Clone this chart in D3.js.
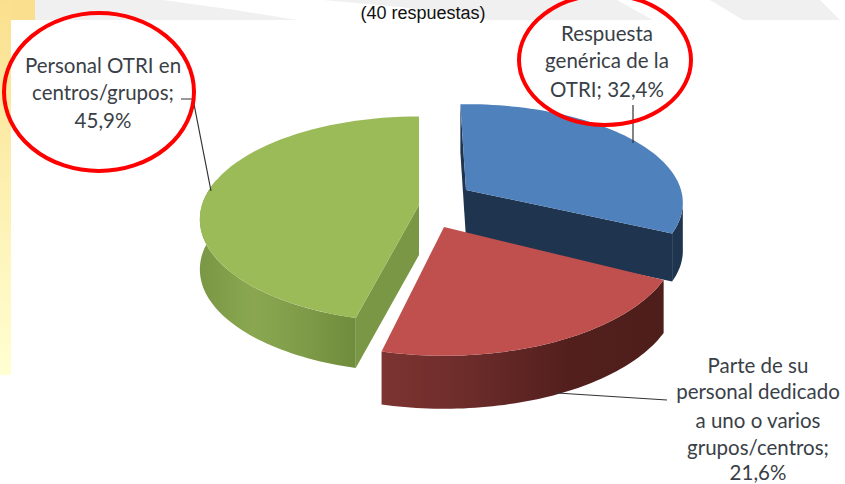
<!DOCTYPE html>
<html>
<head>
<meta charset="utf-8">
<script src="https://cdn.jsdelivr.net/npm/d3@7"></script>
<style>
    html, body { margin: 0; padding: 0; background: #fff; overflow: hidden; }
    svg { display: block; }
    .lbl { font-family: Lato, "Open Sans", sans-serif; font-size: 20.5px; fill: #3a3f47; text-anchor: middle; }
    .sub { font-family: "Liberation Sans", Arial, sans-serif; font-size: 18px; fill: #111; text-anchor: middle; }
    .leader { fill: none; stroke: #333; stroke-width: 1.2px; }
    .ring { fill: none; stroke: #f00; stroke-width: 4px; }
</style>
</head>
<body>
<div id="chart"></div>
<script>
// values
var categories = ["Respuesta genérica de la OTRI", "Parte de su personal dedicado", "Personal OTRI en centros/grupos"];
var values = [32.4, 21.6, 45.9];
var subtitle = "(40 respuestas)";

var labelLines = [
    ["Respuesta", "genérica de la", "OTRI; 32,4%"],
    ["Parte de su", "personal dedicado", "a uno o varios", "grupos/centros;", "21,6%"],
    ["Personal OTRI en", "centros/grupos;", "45,9%"]
];

// exploded slices: apex position and the size of each one in the picture
var sliceLayout = [
    {cx: 466, cy: 190, rx: 215, ry: 97, p: 0.13, depth: 48, tilt: -1.7},
    {cx: 444, cy: 227, rx: 233, ry: 115, p: 0.107, depth: 53, tilt: -0.7},
    {cx: 419, cy: 205, rx: 217, ry: 101, p: 0.14, depth: 50, tilt: 0}
];
var topColors = ["#4f81bd", "#c0504d", "#9bbb59"];
var cutColors = ["#1f344f", "#5a2220", "#7a9746"];
var wallStops = [
    ["#1f344f", "#1f344f"],
    ["#4e1e1b", "#521f1d", "#6a2b29", "#7d3432"],
    ["#7a9845", "#8aa750", "#7e9b49", "#6f8c3c"]
];
var labelPos = [
    {x: 607, y: [41, 68, 97]},
    {x: 758, y: [373, 399, 428, 455, 480]},
    {x: 103, y: [73, 100, 128]}
];

var width = 845, height = 484;

var svg = d3.select("#chart").append("svg")
    .attr("width", width)
    .attr("height", height);
var defs = svg.append("defs");

// yellow side strip
var sideGrad = defs.append("linearGradient")
    .attr("id", "side").attr("x1", 0).attr("y1", 0).attr("x2", 0).attr("y2", 1);
sideGrad.append("stop").attr("offset", 0).attr("stop-color", "#fae08e");
sideGrad.append("stop").attr("offset", 1).attr("stop-color", "#ffffd2");

// grey band at the top, cut by white swooshes
var bandPieces = [
    [[35, 0], [163, 0], [235, 10], [297, 20], [35, 20]],
    [[323, 0], [617, 0], [653, 20], [490, 20], [400, 7]],
    [[710, 0], [820, 0], [840, 20], [743, 20]]
];
svg.selectAll(".band")
    .data(bandPieces)
    .enter().append("path")
    .attr("class", "band")
    .attr("d", function(d) { return "M" + d.join("L") + "Z"; })
    .attr("fill", "#f0f0f0");

svg.append("rect").attr("x", 0).attr("y", 0).attr("width", 11).attr("height", 375).attr("fill", "url(#side)");
svg.append("rect").attr("x", 11).attr("y", 0).attr("width", 24).attr("height", 20).attr("fill", "#fae08e");

svg.append("text").attr("class", "sub").attr("x", 423).attr("y", 18.5).text(subtitle);

// pie angles, clockwise from the top
var pie = d3.pie().sort(null);
var toDeg = d3.scaleLinear().domain([0, 2 * Math.PI]).range([0, 360]);
var slices = pie(values);

// projects a point of the rim (angle in degrees) into the picture
function project(layout, deg, drop) {
    var a = (deg + layout.tilt) * Math.PI / 180;
    var X = Math.sin(a), Y = -Math.cos(a);
    var s = 1 / (1 - layout.p * Y);
    return [layout.cx + layout.rx * X * s, layout.cy + layout.ry * Y * s + (drop || 0)];
}

function rim(layout, from, to, drop) {
    return d3.range(0, 61).map(function(i) {
        return project(layout, from + (to - from) * i / 60, drop);
    });
}

var line = d3.line();

slices.forEach(function(d, i) {
    var lay = sliceLayout[i];
    var start = toDeg(d.startAngle), end = toDeg(d.endAngle);
    var g = svg.append("g").attr("class", "slice");
    var apex = [lay.cx, lay.cy];
    var apexLow = [lay.cx, lay.cy + lay.depth];

    // outer wall runs from the right/front to the left
    var wallA = i === 0 ? 100 : start;
    var wallB = i === 2 ? 285 : end;

    var grad = defs.append("linearGradient")
        .attr("id", "wall" + i)
        .attr("gradientUnits", "userSpaceOnUse")
        .attr("x1", project(lay, wallA)[0])
        .attr("x2", i === 2 ? lay.cx - lay.rx : project(lay, wallB)[0])
        .attr("y1", 0).attr("y2", 0);
    var stops = i === 2 ? wallStops[i].slice().reverse() : wallStops[i];
    stops.forEach(function(c, j) {
        grad.append("stop").attr("offset", j / (stops.length - 1)).attr("stop-color", c);
    });

    // blue shows a thin sliver of its start cut
    if (i === 0) {
        var s0 = project(lay, start);
        g.append("path")
            .attr("d", line([s0, apex, apexLow, [s0[0], s0[1] + lay.depth]]) + "Z")
            .attr("fill", cutColors[i]);
    }

    g.append("path")
        .attr("d", line(rim(lay, wallA, wallB, 0).concat(rim(lay, wallB, wallA, lay.depth))) + "Z")
        .attr("fill", "url(#wall" + i + ")");

    // cut face towards the viewer
    if (i !== 1) {
        var c0 = project(lay, i === 0 ? end : start);
        g.append("path")
            .attr("d", line([apex, c0, [c0[0], c0[1] + lay.depth], apexLow]) + "Z")
            .attr("fill", cutColors[i]);
    }

    // top face
    g.append("path")
        .attr("d", line([apex].concat(rim(lay, start, end, 0))) + "Z")
        .attr("fill", topColors[i]);
});

// leader lines
var leaders = [
    [[633, 105], [633, 143]],
    [[667, 400], [557, 393]],
    [[181, 99], [193, 99], [211, 191]]
];
svg.selectAll(".leader")
    .data(leaders)
    .enter().append("path")
    .attr("class", "leader")
    .attr("d", function(d) { return line(d); });

// labels
labelLines.forEach(function(lines, i) {
    svg.selectAll(".l" + i)
        .data(lines)
        .enter().append("text")
        .attr("class", "lbl l" + i)
        .attr("x", labelPos[i].x)
        .attr("y", function(d, j) { return labelPos[i].y[j]; })
        .text(function(d) { return d; });
});

// hand drawn red circles
svg.append("ellipse").attr("class", "ring").attr("cx", 99).attr("cy", 92).attr("rx", 95).attr("ry", 79);
svg.append("ellipse").attr("class", "ring").attr("cx", 605).attr("cy", 60).attr("rx", 86).attr("ry", 65);
</script>
</body>
</html>
